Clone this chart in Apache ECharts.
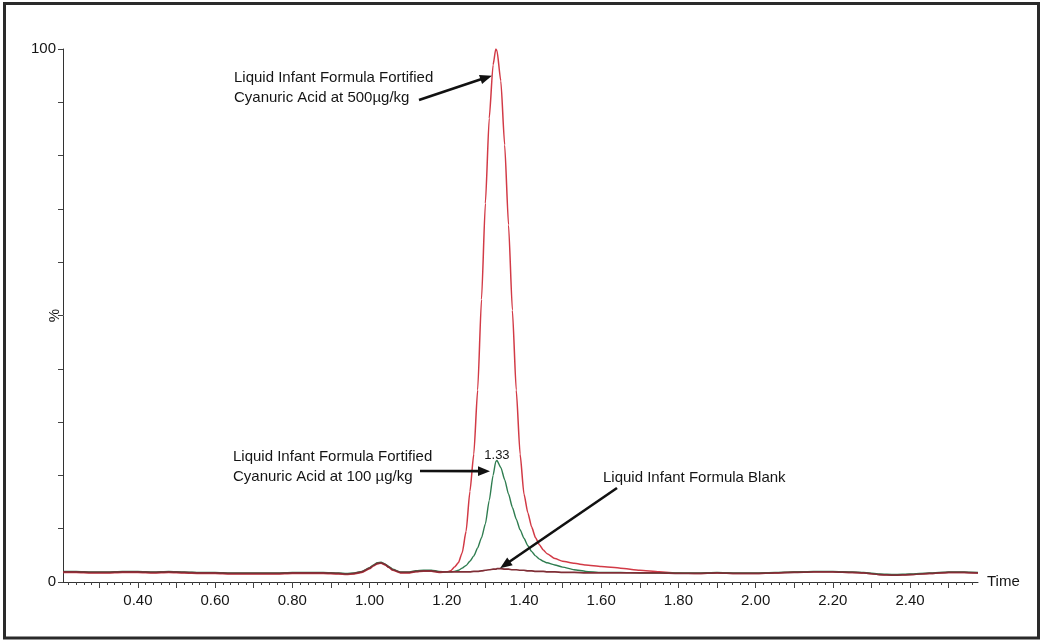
<!DOCTYPE html>
<html>
<head>
<meta charset="utf-8">
<script src="https://cdn.jsdelivr.net/npm/echarts@6/dist/echarts.min.js"></script>
<style>
html,body{margin:0;padding:0;background:#fff;}
#c{width:1043px;height:643px;}
</style>
</head>
<body>
<div id="c"></div>
<script>
// ---- data ----
const times = [
  0.206,0.24,0.28,0.32,0.36,0.40,0.44,0.48,0.52,0.56,
  0.60,0.64,0.68,0.72,0.76,0.80,0.84,0.88,0.92,0.94,
  0.96,0.98,1.00,1.01,1.02,1.03,1.04,1.05,1.06,1.08,
  1.10,1.12,1.14,1.16,1.18,1.20,
  1.21,1.22,1.23,1.24,1.25,1.26,1.27,1.28,1.29,1.30,1.31,1.32,1.327,
  1.33,1.34,1.35,1.36,1.37,1.38,1.39,1.40,1.41,1.42,1.43,1.44,1.45,1.46,1.48,1.50,
  1.53,1.56,1.60,1.65,1.70,1.75,1.80,1.85,1.90,1.95,
  2.00,2.05,2.10,2.15,2.20,2.25,2.28,2.32,2.36,2.40,
  2.45,2.50,2.54,2.576
];
const red500 = [
  1.8,1.8,1.7,1.7,1.8,1.8,1.7,1.8,1.7,1.6,
  1.6,1.5,1.5,1.5,1.5,1.6,1.6,1.6,1.5,1.4,
  1.5,1.8,2.5,3.0,3.4,3.5,3.2,2.7,2.2,1.7,
  1.7,1.9,2.0,2.0,1.8,1.9,
  2.1,2.8,3.6,5.5,9.5,17,24,36,53,71,87,97,100,
  99.7,94,82,67,51,36,24,16.5,13,10.3,8.3,7.0,6.0,5.3,4.4,3.9,
  3.5,3.2,2.9,2.6,2.2,1.9,1.7,1.6,1.7,1.6,
  1.6,1.7,1.9,1.9,1.9,1.8,1.7,1.4,1.3,1.4,
  1.6,1.8,1.8,1.7
];
const green100 = [
  2.0,2.0,1.9,1.9,2.0,2.0,1.9,2.0,1.9,1.8,
  1.8,1.7,1.7,1.7,1.7,1.8,1.8,1.8,1.7,1.6,
  1.7,2.0,2.7,3.2,3.6,3.7,3.4,2.9,2.4,1.9,
  1.9,2.1,2.2,2.2,2.0,1.9,
  1.9,2.0,2.2,2.6,3.1,3.9,4.9,6.4,8.3,10.9,15.3,20.0,22.6,
  22.8,21.5,19.2,16.5,14.0,11.8,9.8,8.2,6.8,5.7,4.9,4.3,3.9,3.6,3.2,2.8,
  2.3,2.0,1.8,1.8,1.7,1.7,1.7,1.7,1.8,1.7,
  1.7,1.8,1.9,2.0,2.0,1.9,1.8,1.5,1.4,1.5,
  1.7,1.9,1.9,1.8
];
const blank = [
  1.9,1.9,1.8,1.8,1.9,1.9,1.8,1.9,1.8,1.7,
  1.7,1.6,1.6,1.6,1.6,1.7,1.7,1.7,1.6,1.5,
  1.6,1.9,2.6,3.1,3.5,3.6,3.3,2.8,2.3,1.8,
  1.8,2.0,2.1,2.1,1.9,1.9,
  1.9,1.9,1.9,1.9,1.9,1.9,2.0,2.0,2.1,2.2,2.3,2.4,2.4,
  2.5,2.5,2.4,2.4,2.3,2.3,2.2,2.2,2.1,2.1,2.0,2.0,2.0,1.9,1.9,1.8,
  1.8,1.7,1.7,1.7,1.7,1.7,1.6,1.6,1.7,1.6,
  1.6,1.7,1.8,1.9,1.9,1.8,1.7,1.4,1.3,1.4,
  1.6,1.8,1.8,1.7
];
const xTickLabels = [0.40,0.60,0.80,1.00,1.20,1.40,1.60,1.80,2.00,2.20,2.40];
const yTickLabels = [0,100];
const peakLabel = {time: 1.33, value: 22.8, text: '1.33'};

// ---- axis tick positions ----
const X_MIN = 0.206, X_MAX = 2.576;
const minorTicks = [], majorTicks = [];
for (let i = 22; i <= 256; i += 2) minorTicks.push(i / 100);
for (let i = 3; i <= 25; i++) majorTicks.push(i / 10);
const yTicks = [];
for (let i = 0; i <= 100; i += 10) yTicks.push(i);

const FONT = '"Liberation Sans", Arial, Helvetica, sans-serif';
const TXT = '#151515';

const chart = echarts.init(document.getElementById('c'), null, {renderer: 'canvas'});
const mk = arr => times.map((t, i) => [t, arr[i]]);

const gridBox = {left: 63, top: 49, right: 65, bottom: 61, containLabel: false, outerBoundsMode: 'none'};

const option = {
  animation: false,
  backgroundColor: '#fff',
  grid: [Object.assign({}, gridBox), Object.assign({}, gridBox)],
  xAxis: [
    {
      type: 'value', gridIndex: 0, min: X_MIN, max: X_MAX,
      axisLine: {show: true, lineStyle: {color: '#333', width: 1}},
      axisTick: {show: true, customValues: minorTicks, length: 3, lineStyle: {color: '#444', width: 1}},
      axisLabel: {customValues: xTickLabels, formatter: v => v.toFixed(2), fontSize: 15, color: TXT, fontFamily: FONT, margin: 11},
      splitLine: {show: false},
      name: 'Time', nameLocation: 'end', nameGap: 9, nameMoveOverlap: false,
      nameTextStyle: {fontSize: 15, color: TXT, fontFamily: FONT, verticalAlign: 'middle'}
    },
    {
      type: 'value', gridIndex: 1, min: X_MIN, max: X_MAX,
      axisLine: {show: false},
      axisTick: {show: true, customValues: majorTicks, length: 6, lineStyle: {color: '#444', width: 1}},
      axisLabel: {show: false},
      splitLine: {show: false}
    }
  ],
  yAxis: [
    {
      type: 'value', gridIndex: 0, min: 0, max: 100,
      axisLine: {show: true, lineStyle: {color: '#333', width: 1}},
      axisTick: {show: true, customValues: yTicks, length: 5, lineStyle: {color: '#444', width: 1}},
      axisLabel: {customValues: yTickLabels, fontSize: 15, color: TXT, fontFamily: FONT, margin: 7},
      splitLine: {show: false},
      name: '%', nameLocation: 'middle', nameRotate: 90, nameGap: 1, nameMoveOverlap: false,
      nameTextStyle: {fontSize: 15, color: TXT, fontFamily: FONT}
    },
    {type: 'value', gridIndex: 1, min: 0, max: 100, show: false}
  ],
  series: [
    {
      name: 'Fortified 500', type: 'line', xAxisIndex: 0, yAxisIndex: 0,
      data: mk(red500), symbol: 'none', smooth: 0.2, smoothMonotone: 'x',
      lineStyle: {color: '#d23a46', width: 1.5}, z: 2
    },
    {
      name: 'Fortified 100', type: 'line', xAxisIndex: 0, yAxisIndex: 0,
      data: mk(green100), symbol: 'none', smooth: 0.2, smoothMonotone: 'x',
      lineStyle: {color: '#2f7d50', width: 1.4}, z: 3
    },
    {
      name: 'Blank', type: 'line', xAxisIndex: 0, yAxisIndex: 0,
      data: mk(blank), symbol: 'none', smooth: 0.2, smoothMonotone: 'x',
      lineStyle: {color: '#7f2e36', width: 1.7}, z: 4
    }
  ]
};
chart.setOption(option);

function px(t, v) { return chart.convertToPixel({gridIndex: 0}, [t, v]); }

function arrow(tail, tip) {
  const dx = tip[0] - tail[0], dy = tip[1] - tail[1];
  const L = Math.hypot(dx, dy), ux = dx / L, uy = dy / L;
  const hl = 12, hw = 4.8;
  const bx = tip[0] - ux * hl, by = tip[1] - uy * hl;
  return [
    {type: 'line', z: 100, shape: {x1: tail[0], y1: tail[1], x2: bx + ux * 2, y2: by + uy * 2},
     style: {stroke: '#111', lineWidth: 2.6}},
    {type: 'polygon', z: 100, shape: {points: [[tip[0], tip[1]], [bx - uy * hw, by + ux * hw], [bx + uy * hw, by - ux * hw]]},
     style: {fill: '#111'}}
  ];
}
function txt(x, y, s, size, align) {
  return {type: 'text', z: 100, x: x, y: y,
    style: {text: s, font: size + 'px ' + FONT, fill: TXT, align: align || 'left', verticalAlign: 'middle'}};
}

const pk = px(peakLabel.time, peakLabel.value);
const graphics = [
  {type: 'rect', z: 0, shape: {x: 4.5, y: 3.5, width: 1034, height: 634.5},
   style: {fill: 'none', stroke: '#2a2a2a', lineWidth: 3}},
  txt(234, 78, 'Liquid Infant Formula Fortified', 15),
  txt(234, 98, 'Cyanuric Acid at 500µg/kg', 15),
  txt(233, 457, 'Liquid Infant Formula Fortified', 15),
  txt(233, 477, 'Cyanuric Acid at 100 µg/kg', 15),
  txt(603, 478, 'Liquid Infant Formula Blank', 15),
  txt(pk[0], pk[1] - 5, peakLabel.text, 13, 'center')
].concat(
  arrow([419, 100], px(1.317, 95)),
  arrow([420, 471], px(1.312, 20.8)),
  arrow([617, 488], px(1.338, 2.6))
);
chart.setOption({graphic: graphics});
</script>
</body>
</html>
